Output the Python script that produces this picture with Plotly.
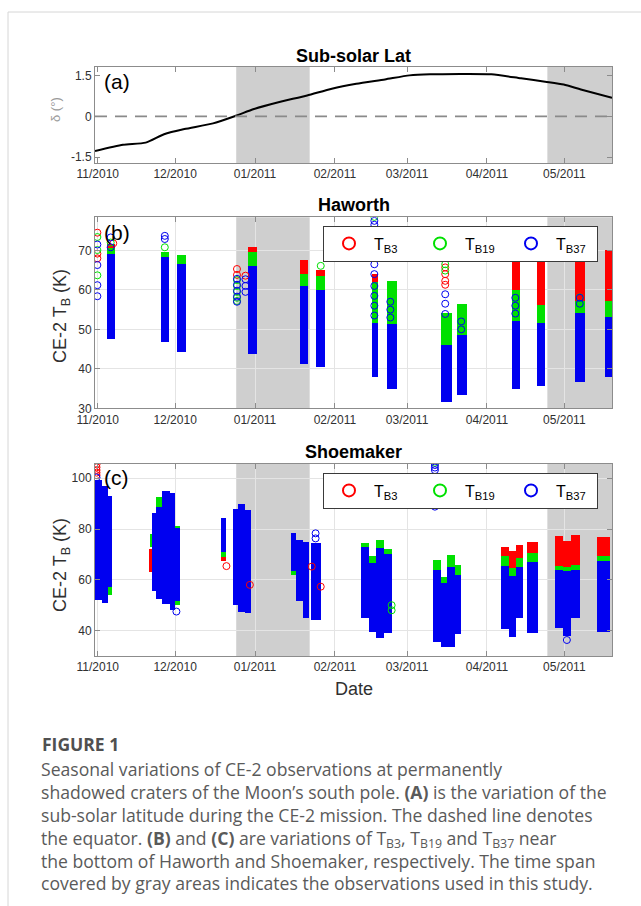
import pandas as pd
import plotly.graph_objects as go

W, H = 641, 906
FONT = "Liberation Sans, Arial, sans-serif"
CAP_FONT = "Open Sans, Noto Sans, sans-serif"
RED, GREEN, BLUE = "#ff0000", "#00e000", "#0000f0"
AX = "#8c8c8c"

# ---------------- data ----------------
# (a) sub-solar latitude (deg)
sol_date = ["2010-10-30 22:00", "2010-11-10 19:00", "2010-11-19 14:00", "2010-11-26 17:00",
            "2010-12-04 14:00", "2010-12-15 17:00", "2010-12-24 12:00", "2010-12-31 14:00",
            "2011-01-10 02:00", "2011-01-21 05:00", "2011-01-30 19:00", "2011-02-09 07:00",
            "2011-02-20 10:00", "2011-03-01 22:00", "2011-03-09 22:00", "2011-04-02 17:00",
            "2011-04-14 05:00", "2011-04-24 05:00", "2011-04-30 19:00", "2011-05-07 10:00",
            "2011-05-19 12:00"]
sol_lat = [-1.28, -1.05, -0.97, -0.66, -0.47, -0.26, 0.02, 0.27, 0.52, 0.77, 1.02, 1.20,
           1.36, 1.51, 1.55, 1.55, 1.40, 1.27, 1.17, 0.99, 0.68]

# observation spans used in the study (gray areas)
span_start = ["2010-12-24 17:00", "2011-04-24 10:00"]
span_end = ["2011-01-22 05:00", "2011-05-19 12:00"]

# (b) Haworth: dense observation strips (start, end, TB range per channel)
hw_start = ["2010-11-04 10:00", "2010-11-25 12:00", "2010-12-01 14:00", "2010-12-29 07:00",
            "2011-01-18 07:00", "2011-01-24 19:00", "2011-02-15 07:00", "2011-02-21 07:00",
            "2011-03-14 07:00", "2011-03-20 05:00", "2011-04-10 14:00", "2011-04-20 07:00",
            "2011-05-05 05:00", "2011-05-16 22:00"]
hw_end = ["2010-11-07 12:00", "2010-11-28 14:00", "2010-12-05 05:00", "2011-01-01 14:00",
          "2011-01-21 14:00", "2011-01-28 00:00", "2011-02-17 17:00", "2011-02-24 22:00",
          "2011-03-18 10:00", "2011-03-24 02:00", "2011-04-13 19:00", "2011-04-23 12:00",
          "2011-05-09 00:00", "2011-05-21 00:00"]
hw_b3_lo = [55, 55, 52, 56, 52, 50, 52, 50, 44, 45, 52, 52, 54, 55]
hw_b3_hi = [71.5, 66, 67.5, 70.8, 67.4, 65, 64, 58, 48, 50, 67.8, 67.8, 70.5, 70]
hw_b19_lo = [50, 50, 48, 50, 47, 48, 50, 50, 42, 46, 50, 49, 52, 51]
hw_b19_hi = [70.5, 69.5, 68.8, 69.5, 64, 63.5, 62, 62.3, 54, 56.4, 60, 56, 57, 57]
hw_b37_lo = [47.6, 46.7, 44.2, 43.8, 41.2, 40.4, 37.8, 34.9, 31.5, 33.2, 34.9, 35.7, 36.6, 37.8]
hw_b37_hi = [69.0, 68.3, 66.5, 66.0, 61, 60, 51.5, 51.3, 46, 48.5, 52, 51.5, 54, 53]

# (b) Haworth: sparse individual observations
hw_p3_date = ["2010-10-31 20:00"] * 3 + ["2010-11-07 00:00"] + ["2010-12-25 00:00"] * 2 + \
             ["2010-12-28 07:00"] + ["2011-03-15 19:00"] * 4
hw_p3_tb = [74.5, 69.2, 68.0, 71.8, 65.3, 63.8, 63.6, 65.7, 64.0, 62.3, 61.3]
hw_p19_date = ["2010-10-31 20:00"] * 3 + ["2010-11-06 00:00", "2010-11-27 00:00"] + \
              ["2010-12-25 00:00"] * 5 + ["2011-01-26 12:00", "2011-02-16 07:00"] + \
              ["2011-03-15 19:00"] * 3 + ["2011-05-07 00:00"]
hw_p19_tb = [73.4, 70.1, 63.7, 72.0, 70.8, 62.5, 61.0, 59.5, 58.0, 57.2, 66.1, 78.5,
             68.2, 66.5, 64.9, 58.1]
hw_p37_date = ["2010-10-31 20:00"] * 4 + ["2010-11-06 00:00"] * 2 + ["2010-11-27 00:00"] * 2 + \
              ["2010-12-25 00:00"] * 5 + ["2010-12-28 07:00"] * 3 + ["2011-02-16 07:00"] * 12 + \
              ["2011-02-22 12:00"] * 3 + ["2011-03-15 19:00"] * 3 + ["2011-03-22 00:00"] * 2 + \
              ["2011-04-12 00:00"] * 3 + ["2011-05-07 00:00"] * 2
hw_p37_tb = [71.5, 66.3, 61.2, 58.4, 73.3, 70.8, 73.7, 72.9, 62.8, 61.3, 59.8, 58.3, 57.0,
             62.7, 61.0, 59.5, 77.5, 76.5, 74.1, 72.5, 70.5, 68.5, 66.5, 64.0, 61.0, 58.5,
             56.0, 53.5, 57.0, 55.0, 53.0, 58.9, 56.5, 53.9, 50.0, 52.0, 58.0, 56.0, 54.0,
             56.5, 58.0]

# (c) Shoemaker: dense observation strips
sm_start = ["2010-10-31 02:00", "2010-11-02 12:00", "2010-11-04 19:00", "2010-11-21 00:00",
            "2010-11-21 05:00", "2010-11-22 00:00", "2010-11-23 12:00", "2010-11-26 00:00",
            "2010-11-29 00:00", "2010-12-01 02:00", "2010-12-18 19:00", "2010-12-23 10:00",
            "2010-12-25 10:00", "2010-12-28 00:00", "2011-01-15 02:00", "2011-01-17 00:00",
            "2011-01-19 14:00", "2011-01-22 14:00", "2011-02-11 07:00", "2011-02-14 07:00",
            "2011-02-17 02:00", "2011-02-20 02:00", "2011-03-11 02:00", "2011-03-14 00:00",
            "2011-03-16 12:00", "2011-03-19 12:00", "2011-04-06 14:00", "2011-04-09 14:00",
            "2011-04-12 02:00", "2011-04-16 10:00", "2011-04-27 12:00", "2011-04-30 12:00",
            "2011-05-03 14:00", "2011-05-13 12:00"]
sm_end = ["2010-11-02 12:00", "2010-11-04 19:00", "2010-11-06 14:00", "2010-11-22 12:00",
          "2010-11-22 05:00", "2010-11-23 12:00", "2010-11-26 00:00", "2010-11-29 00:00",
          "2010-12-01 02:00", "2010-12-02 17:00", "2010-12-20 19:00", "2010-12-25 10:00",
          "2010-12-28 00:00", "2010-12-30 07:00", "2011-01-17 00:00", "2011-01-19 14:00",
          "2011-01-21 19:00", "2011-01-26 17:00", "2011-02-14 07:00", "2011-02-17 02:00",
          "2011-02-20 02:00", "2011-02-23 02:00", "2011-03-14 00:00", "2011-03-16 12:00",
          "2011-03-19 12:00", "2011-03-22 02:00", "2011-04-09 14:00", "2011-04-12 02:00",
          "2011-04-15 02:00", "2011-04-20 22:00", "2011-04-30 12:00", "2011-05-03 14:00",
          "2011-05-07 02:00", "2011-05-18 17:00"]
N = None
sm_b3_lo = [N, N, N, 63, N, N, N, N, N, N, 67.5, N, N, N, N, N, N, N, N, N, N, N, N, N,
            N, N, 64, 62, 64, 68, 63, 63, 63, 68]
sm_b3_hi = [N, N, N, 72, N, N, N, N, N, N, 70, N, N, N, N, N, N, N, N, N, N, N, N, N,
            N, N, 72.8, 71.5, 73.7, 75, 77.2, 75.2, 77.8, 77]
sm_b19_lo = [N, N, 54, N, 73, N, 60, N, N, 50, 69, N, N, N, 62, N, N, N, 50, 45, 45, 44,
             45, 40, 40, 42, 60, 58, 60, 65.5, 62.5, 62.5, 62.5, 66.5]
sm_b19_hi = [N, N, 60, N, 78, N, 92.5, N, N, 81, 73, N, N, N, 65, N, N, N, 74.4, 69.3, 75.5,
             72, 67.8, 61.2, 69.8, 66, 69.5, 64.5, 68.5, 70.5, 65.5, 65, 65.8, 69.5]
sm_b37_lo = [52, 50.7, 57, N, N, 55.5, 52.5, 50.5, 48, 51.5, 71, 50, 47.5, 46.8, 63.5, 51.5,
             44.8, 44.2, 45, 39.5, 37, 39, 35.5, 33.7, 33.5, 38.5, 40.5, 37.6, 45, 39, 41, 38,
             45, 39.6]
sm_b37_hi = [99.3, 97, 93, N, N, 86.5, 88.5, 95, 94, 80.5, 84.5, 88, 90, 87.5, 78.3, 75.5,
             75, 74.5, 73, 66.5, 72.5, 70, 64, 58.6, 65.2, 62, 65.5, 61.5, 65, 67, 63.8, 63.5,
             64, 67.5]

# (c) Shoemaker: sparse individual observations
sm_p3_date = ["2010-10-31 12:00"] * 5 + ["2010-12-20 22:00", "2010-12-30 00:00",
                                         "2011-01-23 00:00", "2011-01-26 12:00"]
sm_p3_tb = [105.5, 104.3, 103.2, 102.2, 101.2, 65.4, 58.0, 65.2, 57.3]
sm_p19_date = ["2011-03-11 19:00"] + ["2011-02-23 00:00"] * 2
sm_p19_tb = [106.1, 48.0, 50.0]
sm_p37_date = ["2010-10-31 12:00"] + ["2011-03-11 19:00"] * 4 + ["2011-01-24 12:00"] * 2 + \
              ["2011-05-02 00:00", "2010-12-01 12:00"]
sm_p37_tb = [100.3, 105.2, 104.2, 103.2, 88.8, 78.3, 76.3, 36.3, 47.5]

x_range = ["2010-10-30 22:00", "2011-05-19 12:00"]


# ---------------- helpers ----------------
def px(x):
    return x / W


def py(y):
    return 1 - y / H


def strips(start, end, lo, hi, color, xa, ya):
    s = pd.to_datetime(pd.Series(start))
    e = pd.to_datetime(pd.Series(end))
    keep = [v is not None for v in lo]
    s, e = s[keep], e[keep]
    lo_k = pd.Series([v for v in lo if v is not None], dtype=float).values
    hi_k = pd.Series([v for v, k in zip(hi, keep) if k], dtype=float).values
    center = s + (e - s) / 2
    width = (e - s).dt.total_seconds() * 1000
    return go.Bar(x=center, y=hi_k - lo_k, base=lo_k, width=list(width),
                  marker=dict(color=color, line=dict(width=0)), xaxis=xa, yaxis=ya,
                  showlegend=False, hoverinfo="skip")


def points(dates, vals, color, name, xa, ya, legend):
    return go.Scatter(x=dates, y=vals, mode="markers", name=name,
                      marker=dict(symbol="circle-open", size=7, color=color,
                                  line=dict(width=1, color=color)),
                      xaxis=xa, yaxis=ya, legend=legend, cliponaxis=True)


fig = go.Figure()

# (a)
fig.add_trace(go.Scatter(x=sol_date, y=sol_lat, mode="lines", line=dict(color="black", width=2,
                                                                          shape="spline", smoothing=0.6),
                         xaxis="x", yaxis="y", showlegend=False))

# (b)
fig.add_trace(strips(hw_start, hw_end, hw_b3_lo, hw_b3_hi, RED, "x2", "y2"))
fig.add_trace(strips(hw_start, hw_end, hw_b19_lo, hw_b19_hi, GREEN, "x2", "y2"))
fig.add_trace(strips(hw_start, hw_end, hw_b37_lo, hw_b37_hi, BLUE, "x2", "y2"))
fig.add_trace(points(hw_p3_date, hw_p3_tb, RED, "T<sub>B3</sub>", "x2", "y2", "legend"))
fig.add_trace(points(hw_p19_date, hw_p19_tb, GREEN, "T<sub>B19</sub>", "x2", "y2", "legend"))
fig.add_trace(points(hw_p37_date, hw_p37_tb, BLUE, "T<sub>B37</sub>", "x2", "y2", "legend"))

# (c)
fig.add_trace(strips(sm_start, sm_end, sm_b3_lo, sm_b3_hi, RED, "x3", "y3"))
fig.add_trace(strips(sm_start, sm_end, sm_b19_lo, sm_b19_hi, GREEN, "x3", "y3"))
fig.add_trace(strips(sm_start, sm_end, sm_b37_lo, sm_b37_hi, BLUE, "x3", "y3"))
fig.add_trace(points(sm_p3_date, sm_p3_tb, RED, "T<sub>B3</sub>", "x3", "y3", "legend2"))
fig.add_trace(points(sm_p19_date, sm_p19_tb, GREEN, "T<sub>B19</sub>", "x3", "y3", "legend2"))
fig.add_trace(points(sm_p37_date, sm_p37_tb, BLUE, "T<sub>B37</sub>", "x3", "y3", "legend2"))

xdom = [px(95), px(612)]
xbase = dict(type="date", range=x_range, tick0="2010-11-01", dtick="M1", tickformat="%m/%Y",
             ticks="inside", ticklen=5, tickcolor=AX, showline=True, linecolor=AX, linewidth=1,
             mirror="ticks", zeroline=False, domain=xdom, automargin=False,
             tickfont=dict(family=FONT, size=12, color="#303030"))
ybase = dict(ticks="inside", ticklen=5, tickcolor=AX, showline=True, linecolor=AX, linewidth=1,
             mirror="ticks", zeroline=False, automargin=False,
             tickfont=dict(family=FONT, size=12, color="#303030"))

legend_base = dict(orientation="h", xanchor="left", yanchor="top", bgcolor="white",
                   bordercolor="#3a3a3a", borderwidth=1, itemsizing="constant", itemwidth=40,
                   entrywidth=36, font=dict(family=FONT, size=16, color="black"))

fig.update_layout(
    width=W, height=H, margin=dict(l=0, r=0, t=0, b=0, autoexpand=False),
    paper_bgcolor="white", plot_bgcolor="white", barmode="overlay", bargap=0,
    xaxis=dict(xbase, anchor="y", showgrid=False),
    yaxis=dict(ybase, anchor="x", domain=[py(163), py(66.7)], range=[-1.72, 1.83],
               tickvals=[-1.5, 0, 1.5], ticktext=["-1.5", "0", "1.5"], showgrid=False),
    xaxis2=dict(xbase, anchor="y2", showgrid=True, gridcolor="#e4e4e4"),
    yaxis2=dict(ybase, anchor="x2", domain=[py(408.3), py(217.3)], range=[30, 78.4],
                tickvals=[30, 40, 50, 60, 70], showgrid=True, gridcolor="#e4e4e4"),
    xaxis3=dict(xbase, anchor="y3", showgrid=True, gridcolor="#e4e4e4"),
    yaxis3=dict(ybase, anchor="x3", domain=[py(656), py(464)], range=[30, 105.6],
                tickvals=[40, 60, 80, 100], showgrid=True, gridcolor="#e4e4e4"),
    legend=dict(legend_base, x=px(323), y=py(225.5)),
    legend2=dict(legend_base, x=px(323), y=py(472.5)),
)

# gray spans and equator line
shapes = []
for xr, yr in [("x", "y domain"), ("x2", "y2 domain"), ("x3", "y3 domain")]:
    for s, e in zip(span_start, span_end):
        shapes.append(dict(type="rect", xref=xr, yref=yr, x0=s, x1=e, y0=0, y1=1,
                           fillcolor="#cfcfcf", line=dict(width=0), layer="below"))
shapes.append(dict(type="line", xref="x domain", yref="y", x0=0, x1=1, y0=0, y1=0,
                   line=dict(color="#8a8a8a", width=1.6, dash="12px,8px")))
# card frame
shapes.append(dict(type="line", xref="paper", yref="paper", x0=px(8), x1=1, y0=py(12), y1=py(12),
                   line=dict(color="#d6d6d6", width=1)))
shapes.append(dict(type="line", xref="paper", yref="paper", x0=px(8), x1=px(8), y0=py(12), y1=0,
                   line=dict(color="#d6d6d6", width=1)))
fig.update_layout(shapes=shapes)

ann = []


def text(x, y, s, size, color="black", anchor="center", angle=0, family=FONT, yanchor="middle",
         align="center"):
    ann.append(dict(x=px(x), y=py(y), xref="paper", yref="paper", text=s, showarrow=False,
                    xanchor=anchor, yanchor=yanchor, textangle=angle, align=align,
                    font=dict(family=family, size=size, color=color)))


text(353.5, 56, "<b>Sub-solar Lat</b>", 18)
text(353.5, 205, "<b>Haworth</b>", 18)
text(353.5, 452, "<b>Shoemaker</b>", 18)
text(102, 81, "(a)", 21, anchor="left")
text(102, 233, "(b)", 21, anchor="left")
text(102, 477, "(c)", 21, anchor="left")
text(56, 110, "δ (°)", 13, color="#9a9a9a", angle=-90)
text(61, 316, "CE-2 T<sub>B</sub> (K)", 18, color="#303030", angle=-90)
text(61, 565, "CE-2 T<sub>B</sub> (K)", 18, color="#303030", angle=-90)
text(353.5, 689, "Date", 18, color="#303030")

CAP = "#5a5a5a"
text(40, 744, "<b>FIGURE 1</b>", 17.5, color="#505050", anchor="left", family=CAP_FONT)
cap_lines = [
    "Seasonal variations of CE-2 observations at permanently",
    "shadowed craters of the Moon’s south pole. <b>(A)</b> is the variation of the",
    "sub-solar latitude during the CE-2 mission. The dashed line denotes",
    "the equator. <b>(B)</b> and <b>(C)</b> are variations of T<sub>B3</sub>, T<sub>B19</sub> and T<sub>B37</sub> near",
    "the bottom of Haworth and Shoemaker, respectively. The time span",
    "covered by gray areas indicates the observations used in this study.",
]
text(39, 826, "<br>".join(cap_lines), 17.6, color=CAP, anchor="left", family=CAP_FONT, align="left")

fig.update_layout(annotations=ann)
fig.write_html("out.html")
